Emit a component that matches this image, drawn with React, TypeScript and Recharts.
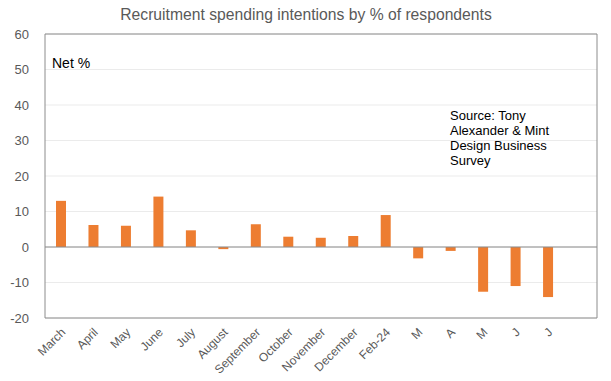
import React from "react";
import { BarChart, Bar, XAxis, YAxis, CartesianGrid, ReferenceLine } from "recharts";

const categories = ["March", "April", "May", "June", "July", "August", "September", "October", "November", "December", "Feb-24", "M", "A", "M", "J", "J", ""];
const netValues: (number | null)[] = [13.0, 6.2, 6.0, 14.2, 4.7, -0.6, 6.4, 2.9, 2.6, 3.1, 9.0, -3.2, -1.1, -12.6, -11.0, -14.1, null];
const yTicks = [-20, -10, 0, 10, 20, 30, 40, 50, 60];

const data = categories.map((c, i) => ({ key: i, label: c, value: netValues[i] }));

const FONT = "'Liberation Sans', Arial, sans-serif";

const XTick = (props: any) => {
  const { x, y, payload } = props;
  const lbl = categories[payload.value] ?? "";
  const ax = x + 5;
  const ay = y + 7;
  return (
    <text
      x={ax}
      y={ay}
      textAnchor="end"
      fontSize={12}
      fill="#595959"
      fontFamily={FONT}
      transform={`rotate(-45, ${ax}, ${ay})`}
    >
      {lbl}
    </text>
  );
};

export default function App() {
  return (
    <div style={{ position: "absolute", left: 0, top: 0, width: 611, height: 381, background: "#fff" }}>
      <BarChart
        width={611}
        height={381}
        data={data}
        margin={{ top: 34, right: 14, bottom: 0, left: 0 }}
        barCategoryGap={0}
      >
        <CartesianGrid horizontal={true} vertical={false} stroke="#EBEBEB" />
        <XAxis
          dataKey="key"
          type="category"
          height={63}
          tick={<XTick />}
          tickLine={false}
          axisLine={{ stroke: "#8C8C8C" }}
          interval={0}
        />
        <YAxis
          domain={[-20, 60]}
          ticks={yTicks}
          width={45}
          tickLine={false}
          axisLine={{ stroke: "#8C8C8C" }}
          tick={{ fontSize: 13, fill: "#595959", fontFamily: FONT }}
          tickMargin={10}
        />
        <ReferenceLine y={0} stroke="#8C8C8C" />
        <ReferenceLine y={60} stroke="#8C8C8C" />
        <Bar dataKey="value" fill="#ED7D31" barSize={10} isAnimationActive={false} />
        <text x={306} y={20} textAnchor="middle" fontSize={15.7} fill="#595959" fontFamily={FONT}>
          Recruitment spending intentions by % of respondents
        </text>
        <text x={52} y={68} fontSize={14} fill="#000" fontFamily={FONT}>
          Net %
        </text>
        <text x={450} y={120} fontSize={13} fill="#000" fontFamily={FONT}>
          <tspan x={450} dy={0}>Source: Tony</tspan>
          <tspan x={450} dy={15}>Alexander  &amp; Mint</tspan>
          <tspan x={450} dy={15}>Design Business</tspan>
          <tspan x={450} dy={15}>Survey</tspan>
        </text>
        <line x1={597} y1={34} x2={597} y2={318} stroke="#8C8C8C" />
      </BarChart>
    </div>
  );
}
